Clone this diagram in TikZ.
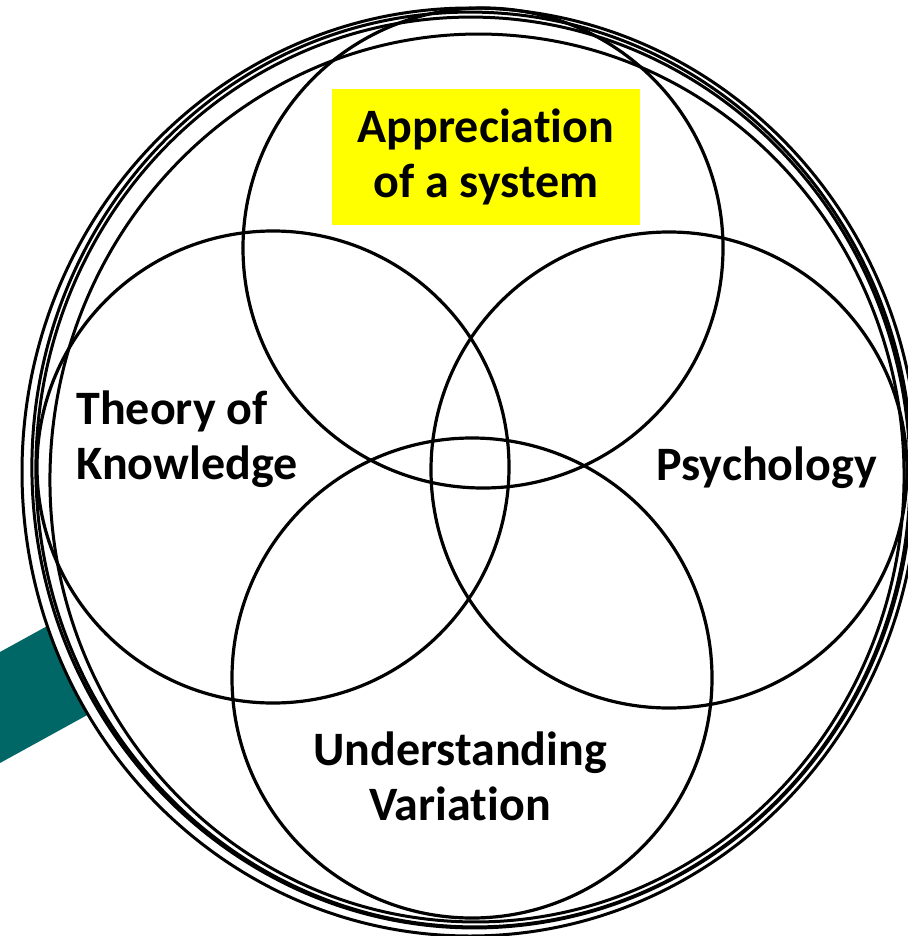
\documentclass[tikz,border=0pt]{standalone}
\usepackage{fontspec}
\setmainfont{Carlito}[Ligatures=CommonOff]
\usetikzlibrary{positioning}
\usepackage{xcolor}
\definecolor{handleteal}{RGB}{0,102,102}
\definecolor{labelyellow}{RGB}{255,255,0}

\begin{document}
\begin{tikzpicture}[
        x=0.5pt, y=-0.5pt,
        line join=bevel,
        vennring/.style={shape=circle, draw=black, line width=1.6pt, inner sep=0pt},
        rimline/.style={draw=black, line width=1.5pt},
        venntext/.style={font=\bfseries\fontsize{24}{27.5}\selectfont, inner sep=0pt}
        ]
        \useasboundingbox (0,0) rectangle (907,936);

        %% Handle behind the lens
        \fill[handleteal] (0,652) -- (200,542) -- (200,653) -- (0,763) -- cycle;
        \fill[white] (470,472) ellipse [x radius=224pt, y radius=232pt];

        %% Rim of the lens
        \draw[rimline] (470,472) ellipse [x radius=224pt, y radius=232pt];
        \draw[rimline, rotate around={4:(472,470)}] (472,470) ellipse [x radius=220pt, y radius=229pt];
        \draw[rimline, rotate around={4:(473,472)}] (473,472) ellipse [x radius=218.5pt, y radius=227.5pt];
        \draw[rimline, rotate around={-3:(477,478)}] (477,478) ellipse [x radius=213.5pt, y radius=222pt];

        %% Circles
        \node[vennring, minimum size=240pt] (system) at (483,248) {};
        \node[vennring, minimum size=236pt] (knowledge) at (273,467) {};
        \node[vennring, minimum size=238pt] (psychology) at (669,470) {};
        \node[vennring, minimum size=240pt] (variation) at (472,678) {};

        %% Labels
        \node[venntext, fill=labelyellow, minimum width=154pt, minimum height=68pt, align=center] (systemlabel) at (486,157) {Appreciation\\of a system};
        \node[venntext, anchor=west, align=left] (knowledgelabel) at (76,439) {Theory of\\Knowledge};
        \node[venntext, anchor=base west] (psychologylabel) at (656,480) {Psychology};
        \node[venntext, align=center] (variationlabel) at (460,776) {Understanding\\Variation};
\end{tikzpicture}
\end{document}
